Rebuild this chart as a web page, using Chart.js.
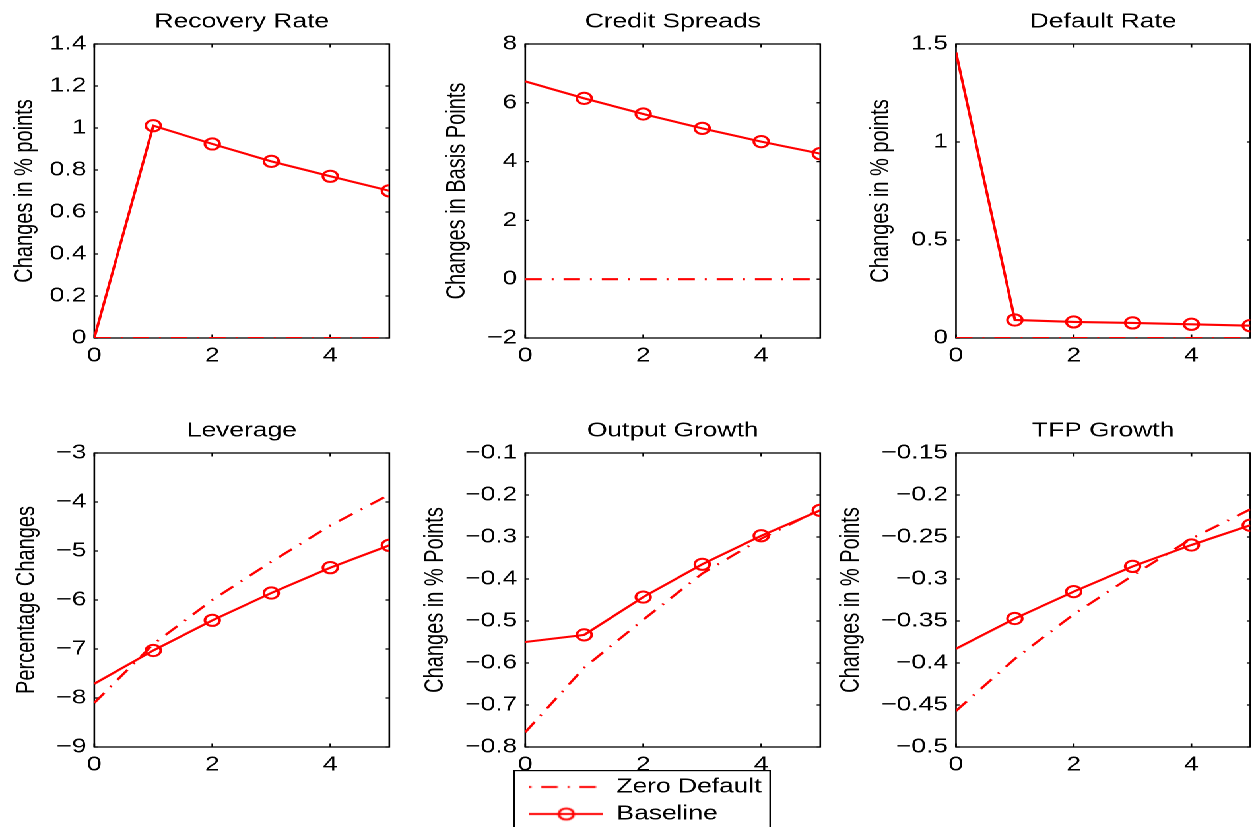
<!DOCTYPE html>
<html>
<head>
<meta charset="utf-8">
<script src="https://cdn.jsdelivr.net/npm/chart.js@4.4.1/dist/chart.umd.min.js"></script>
<style>
  html, body { margin: 0; padding: 0; background: #fff; overflow: hidden; }
  #figura { position: absolute; left: 0; top: 0; width: 952px; height: 827px; transform-origin: 0 0; }
  #figura canvas { position: absolute; }
</style>
</head>
<body>
<div id="figura"></div>
<script>
// horizonte (periodos) e ticks do eixo x
const periodos = [0, 1, 2, 3, 4, 5];
const ticksX = [0, 2, 4];

// Recovery Rate
const recZero = [0, 0, 0, 0, 0, 0];
const recBase = [0, 1.011, 0.924, 0.841, 0.770, 0.701];
const recTicks = [0, 0.2, 0.4, 0.6, 0.8, 1, 1.2, 1.4];

// Credit Spreads
const spreadZero = [0, 0, 0, 0, 0, 0];
const spreadBase = [6.73, 6.15, 5.62, 5.13, 4.68, 4.27];
const spreadTicks = [-2, 0, 2, 4, 6, 8];

// Default Rate
const defZero = [0, 0, 0, 0, 0, 0];
const defBase = [1.457, 0.092, 0.082, 0.077, 0.070, 0.063];
const defTicks = [0, 0.5, 1, 1.5];

// Leverage
const levZero = [-8.10, -6.90, -6.00, -5.22, -4.48, -3.85];
const levBase = [-7.71, -7.03, -6.415, -5.857, -5.34, -4.884];
const levTicks = [-9, -8, -7, -6, -5, -4, -3];

// Output Growth
const outZero = [-0.765, -0.611, -0.497, -0.387, -0.304, -0.234];
const outBase = [-0.55, -0.533, -0.443, -0.365, -0.297, -0.2365];
const outTicks = [-0.8, -0.7, -0.6, -0.5, -0.4, -0.3, -0.2, -0.1];

// TFP Growth
const tfpZero = [-0.457, -0.395, -0.342, -0.296, -0.252, -0.217];
const tfpBase = [-0.383, -0.347, -0.315, -0.285, -0.2595, -0.236];
const tfpTicks = [-0.5, -0.45, -0.4, -0.35, -0.3, -0.25, -0.2, -0.15];

const nomesSeries = ['Zero Default', 'Baseline'];

const paineis = [
  { titulo: 'Recovery Rate', rotulo: 'Changes in % points', zero: recZero, base: recBase, ticks: recTicks },
  { titulo: 'Credit Spreads', rotulo: 'Changes in Basis Points', zero: spreadZero, base: spreadBase, ticks: spreadTicks },
  { titulo: 'Default Rate', rotulo: 'Changes in % points', zero: defZero, base: defBase, ticks: defTicks },
  { titulo: 'Leverage', rotulo: 'Percentage Changes', zero: levZero, base: levBase, ticks: levTicks },
  { titulo: 'Output Growth', rotulo: 'Changes in % Points', zero: outZero, base: outBase, ticks: outTicks },
  { titulo: 'TFP Growth', rotulo: 'Changes in % Points', zero: tfpZero, base: tfpBase, ticks: tfpTicks }
];

// a figura original esta esticada na horizontal
const S = 1.32;
const colIni = [0, 405, 830];
const altPlot = 294;
// caixas dos eixos em pixels da imagem: esquerda, direita, topo, centro do ylabel
const caixas = [
  { col: 0, l: 94.3, r: 389.3, t: 44.3, lab: 27.4 },
  { col: 1, l: 525, r: 820, t: 44.3, lab: 459.5 },
  { col: 2, l: 955.7, r: 1250, t: 44.3, lab: 883 },
  { col: 0, l: 94.3, r: 389.3, t: 452.7, lab: 29 },
  { col: 1, l: 525, r: 820, t: 452.7, lab: 437.5 },
  { col: 2, l: 955.7, r: 1250, t: 452.7, lab: 853.4 }
];

const fonte = "'Liberation Sans', Arial, Helvetica, sans-serif";
Chart.defaults.font.family = fonte;
Chart.defaults.color = '#000';

const figura = document.getElementById('figura');
figura.style.transform = `scaleX(${S})`;

const menos = v => String(v).replace('-', '\u2212');
const pontos = serie => periodos.map((x, i) => ({ x, y: serie[i] }));
const tracoPonto = [12.5, 7.5, 1.5, 7.5];

// caixa do eixo com ticks para dentro, estilo MATLAB
const moldura = {
  id: 'moldura',
  beforeDatasetsDraw(chart) {
    const { ctx, chartArea: a, scales: { x, y } } = chart;
    ctx.save();
    ctx.strokeStyle = '#000';
    ctx.lineWidth = 1.3;
    ctx.strokeRect(a.left, a.top, a.right - a.left, a.bottom - a.top);
    ctx.beginPath();
    x.ticks.forEach(t => {
      const px = x.getPixelForValue(t.value);
      ctx.moveTo(px, a.bottom); ctx.lineTo(px, a.bottom - 3.5);
      ctx.moveTo(px, a.top); ctx.lineTo(px, a.top + 3.5);
    });
    y.ticks.forEach(t => {
      const py = y.getPixelForValue(t.value);
      ctx.moveTo(a.left, py); ctx.lineTo(a.left + 2.7, py);
      ctx.moveTo(a.right, py); ctx.lineTo(a.right - 2.7, py);
    });
    ctx.stroke();
    ctx.restore();
  }
};

function criarPainel(p, cx) {
  const ini = colIni[cx.col];
  const lw = (cx.l - ini) / S;
  const pw = (cx.r - cx.l) / S;
  const largura = Math.ceil(lw + pw + 16);
  const canvas = document.createElement('canvas');
  canvas.width = largura;
  canvas.height = 44 + altPlot + 40;
  canvas.style.left = (ini / S) + 'px';
  canvas.style.top = (cx.t - 44) + 'px';
  figura.appendChild(canvas);

  new Chart(canvas, {
    type: 'line',
    data: {
      datasets: [
        {
          label: nomesSeries[0],
          data: pontos(p.zero),
          borderColor: '#f00',
          borderWidth: 2.1,
          borderDash: tracoPonto,
          pointRadius: 0,
          tension: 0
        },
        {
          label: nomesSeries[1],
          data: pontos(p.base),
          borderColor: '#f00',
          borderWidth: 2.1,
          pointStyle: 'circle',
          pointRadius: c => (c.dataIndex === 0 ? 0 : 5.6),
          pointBorderWidth: 2,
          pointBorderColor: '#f00',
          pointBackgroundColor: 'rgba(255,255,255,0)',
          tension: 0
        }
      ]
    },
    options: {
      animation: false,
      responsive: false,
      devicePixelRatio: 2,
      events: [],
      layout: { padding: { left: 0, right: largura - lw - pw, top: 0, bottom: 0 } },
      scales: {
        x: {
          type: 'linear',
          min: 0,
          max: 5,
          grid: { display: false, drawTicks: false },
          border: { display: false },
          afterBuildTicks: s => { s.ticks = ticksX.map(v => ({ value: v })); },
          afterFit: s => { s.height = 40; },
          ticks: { font: { size: 20 }, padding: 6, maxRotation: 0, autoSkip: false, callback: menos }
        },
        y: {
          min: p.ticks[0],
          max: p.ticks[p.ticks.length - 1],
          grid: { display: false, drawTicks: false },
          border: { display: false },
          afterBuildTicks: s => { s.ticks = p.ticks.map(v => ({ value: v })); },
          afterFit: s => { s.width = lw; },
          ticks: { font: { size: 20 }, padding: 6, autoSkip: false, callback: menos },
          title: {
            display: true,
            text: p.rotulo,
            font: { size: 20 },
            padding: { top: (cx.lab - ini) / S - 1.7 - 12, bottom: 0 }
          }
        }
      },
      plugins: {
        legend: { display: false },
        tooltip: { enabled: false },
        title: {
          display: true,
          text: p.titulo,
          fullSize: false,
          font: { size: 20, weight: 'normal' },
          padding: { top: 10, bottom: 10 }
        }
      }
    },
    plugins: [moldura]
  });
}

paineis.forEach((p, i) => criarPainel(p, caixas[i]));

// legenda: caixa branca por cima dos ticks do painel central
function amostra(circulo, tracejado) {
  const c = document.createElement('canvas');
  c.width = 56; c.height = 16;
  const g = c.getContext('2d');
  g.strokeStyle = '#f00';
  g.lineWidth = 2.1;
  if (tracejado) { g.setLineDash(tracoPonto); g.lineDashOffset = 20; }
  g.beginPath(); g.moveTo(0, 8); g.lineTo(56, 8); g.stroke();
  if (circulo) {
    g.setLineDash([]);
    g.lineWidth = 2;
    g.beginPath(); g.arc(28, 8, 5.6, 0, Math.PI * 2); g.stroke();
  }
  return c;
}

const fundoLegenda = {
  id: 'fundoLegenda',
  beforeDraw(chart) {
    const { ctx, width, height } = chart;
    ctx.save();
    ctx.fillStyle = '#fff';
    ctx.fillRect(0, 0, width, height);
    ctx.strokeStyle = '#000';
    ctx.lineWidth = 1.2;
    ctx.strokeRect(0.6, 0.6, width - 1.2, height + 5);
    ctx.restore();
  }
};

const cvLeg = document.createElement('canvas');
cvLeg.width = Math.round(257 / S);
cvLeg.height = 70;
cvLeg.style.left = (513 / S) + 'px';
cvLeg.style.top = '770px';
figura.appendChild(cvLeg);

new Chart(cvLeg, {
  type: 'line',
  data: {
    datasets: [
      { label: nomesSeries[0], data: [], borderColor: '#f00', pointStyle: amostra(false, true) },
      { label: nomesSeries[1], data: [], borderColor: '#f00', pointStyle: amostra(true, false) }
    ]
  },
  options: {
    animation: false,
    responsive: false,
    devicePixelRatio: 2,
    events: [],
    layout: { padding: { left: 5, top: 0 } },
    scales: { x: { display: false }, y: { display: false } },
    plugins: {
      tooltip: { enabled: false },
      legend: {
        position: 'left',
        align: 'start',
        maxWidth: 400,
        labels: { usePointStyle: true, pointStyleWidth: 56, padding: 7, color: '#000', font: { size: 20 } }
      }
    }
  },
  plugins: [fundoLegenda]
});
</script>
</body>
</html>
